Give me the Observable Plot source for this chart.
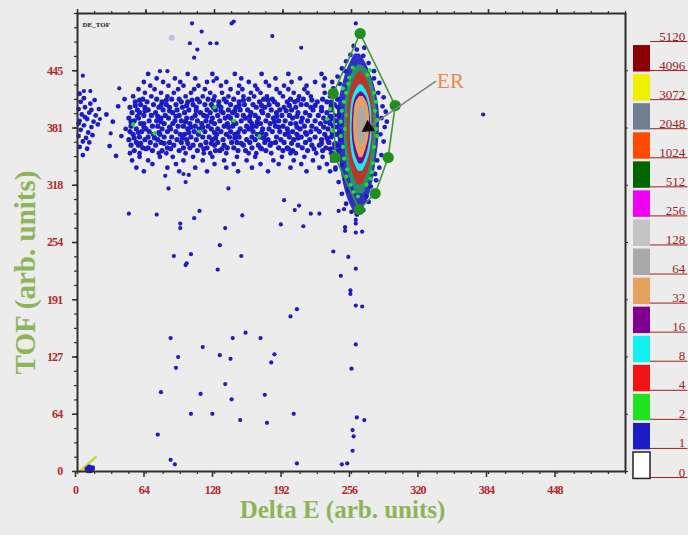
<!DOCTYPE html>
<html>
<head>
<meta charset="utf-8">
<script src="https://cdn.jsdelivr.net/npm/d3@7"></script>
<script src="https://cdn.jsdelivr.net/npm/@observablehq/plot@0.6"></script>
<style>
  html, body { margin: 0; padding: 0; background: #ececec; }
  #chart { position: relative; width: 688px; height: 535px; overflow: hidden; background: #ececec; }
  #main { position: absolute; left: 0; top: 0; }
  #legend { position: absolute; left: 628px; top: 0; }
  #main g[aria-label="x-axis tick label"] text,
  #main g[aria-label="y-axis tick label"] text { letter-spacing: -0.8px; }
</style>
</head>
<body>
<div id="chart"><div id="main"></div><div id="legend"></div></div>
<script>
// ---- axes ----
const xTickValues = [0, 64, 128, 192, 256, 320, 384, 448];
const yTickValues = [0, 63.5, 127, 190.5, 254, 317.5, 381, 444.5];
const yTickLabels = ["0", "64", "127", "191", "254", "318", "381", "445"];

// ---- count levels of the 2D histogram ----
const levelValues = [0, 1, 2, 4, 8, 16, 32, 64, 128, 256, 512, 1024, 2048, 3072, 4096];
const levelColors = ["#ffffff", "#1c1cc4", "#22e022", "#f01414", "#10f0f0", "#800090", "#e6a160",
                     "#a9a9a9", "#c4c4c4", "#f000f0", "#006400", "#ff4a00", "#708090", "#f0f000", "#8b0000"];
const legendLabels = ["0", "1", "2", "4", "8", "16", "32", "64", "128", "256", "512", "1024", "2048", "3072", "4096", "5120"];

// ---- single-count events (Delta E, TOF) ----
const sparsePoints = [
  [107,497],[116,488],[144,497],[146,499],[105,475],[112,468],[124,475],[130,475],[182,483],[209,470],[109,459],[260,497],
  [77,444],[84,444],[127,433],[39,425],[5,439],[12,422],[6,422],[21,391],[31,375],[379,396],
  [82,328],[99,330],[104,329],[85,314],[101,321],[141,314],
  [74,285],[48,286],[96,275],[96,270],[109,281],[114,289],[154,284],[138,270],[133,251],[90,239],[106,241],[102,231],[101,229],[131,224],[153,239],
  [193,301],[203,290],[207,295],[218,286],[226,286],[190,274],[211,272],[239,244],[253,238],[260,225],[246,217],[255,201],[255,197],[260,184],[266,183],[205,180],[199,172],
  [87,148],[145,148],[157,154],[171,148],[117,138],[94,127],[92,115],[133,129],[143,125],[184,130],[181,121],[260,141],[256,114],
  [138,97],[78,88],[115,86],[144,80],[175,85],[106,64],[126,64],[152,57],[177,54],[202,64],[75,41],[261,60],[268,57],[257,46],[258,39],[257,23],
  [87,13],[91,8],[205,9],[247,8],[252,9],
  [244,289],[249,291],[250,271],[250,267],[260,275],[260,265],[266,266],[260,279]
];
const faintPoints = [[88,481]];

// events near Delta E = 0
const leftCluster = [
  [2,360],[5,366],[1,372],[8,370],[3,379],[10,376],[6,384],[13,382],[2,389],[9,391],[15,388],[4,396],[11,398],[1,402],
  [7,404],[17,395],[3,410],[12,408],[6,414],[19,385],[14,373],[5,351],[9,358],[2,419],[20,402],[16,412],[7,393],[11,365],
  [1,386],[13,401],[27,396],[33,388],[41,372],[38,405],[45,380],[30,361],[44,413],[36,350]
];

// the dense TOF ~ 385 band: rows of [TOF, [Delta E ...]]
const bandRows = [
  [333, [62, 95, 121, 150, 178, 214, 236]],
  [337, [55, 84, 110, 139, 163, 199, 226, 241]],
  [341, [70, 92, 128, 146, 171, 188, 209, 233]],
  [345, [51, 66, 99, 117, 137, 158, 183, 202, 220, 238]],
  [349, [58, 77, 89, 108, 126, 149, 166, 191, 212, 229, 244]],
  [353, [49, 58, 76, 83, 101, 118, 124, 139, 160, 167, 181, 199, 204, 223, 238]],
  [356, [53, 70, 79, 95, 112, 129, 133, 150, 157, 176, 192, 201, 215, 229, 244]],
  [358, [64, 87, 118, 135, 172, 197, 221, 236]],
  [359, [61, 66, 84, 99, 105, 121, 140, 146, 163, 171, 188, 196, 210, 232, 240]],
  [362, [50, 57, 73, 90, 108, 115, 128, 137, 155, 169, 180, 206, 219, 226, 243]],
  [364, [59, 81, 103, 125, 153, 181, 200, 228, 241]],
  [365, [55, 68, 78, 86, 97, 120, 131, 144, 149, 161, 175, 185, 193, 213, 235]],
  [368, [48, 63, 75, 93, 102, 111, 126, 136, 158, 166, 178, 190, 202, 217, 228, 246]],
  [370, [53, 72, 98, 129, 147, 174, 206, 233]],
  [371, [58, 66, 81, 88, 106, 117, 123, 142, 151, 163, 171, 186, 198, 209, 222, 237]],
  [374, [52, 71, 77, 96, 100, 113, 130, 139, 147, 168, 176, 194, 205, 214, 231, 242]],
  [376, [57, 76, 104, 128, 150, 172, 197, 213, 238]],
  [377, [49, 60, 67, 84, 92, 109, 119, 134, 143, 156, 164, 182, 189, 201, 218, 226, 245]],
  [380, [55, 64, 79, 87, 103, 114, 125, 131, 152, 160, 173, 179, 196, 208, 223, 234]],
  [382, [62, 86, 106, 117, 141, 163, 188, 205, 230]],
  [383, [50, 70, 75, 94, 99, 110, 122, 137, 145, 158, 167, 185, 192, 212, 219, 239]],
  [386, [59, 62, 81, 89, 105, 116, 128, 140, 148, 163, 171, 180, 199, 204, 227, 236, 246]],
  [388, [50, 78, 101, 125, 146, 168, 184, 209, 232]],
  [389, [53, 67, 74, 91, 97, 112, 120, 133, 153, 161, 176, 188, 194, 215, 222, 241]],
  [392, [48, 57, 78, 85, 102, 107, 126, 138, 143, 157, 169, 183, 201, 210, 230, 238]],
  [394, [56, 75, 92, 121, 141, 161, 186, 205, 236]],
  [395, [62, 69, 82, 95, 110, 118, 131, 149, 155, 166, 178, 191, 198, 217, 225, 244]],
  [398, [51, 58, 73, 89, 100, 115, 124, 136, 145, 162, 173, 186, 206, 213, 233]],
  [400, [63, 86, 111, 134, 147, 172, 195, 228]],
  [401, [56, 66, 80, 93, 104, 121, 129, 141, 152, 159, 181, 189, 200, 220, 237, 245]],
  [404, [49, 63, 76, 86, 98, 111, 127, 134, 148, 167, 175, 193, 204, 218, 228]],
  [406, [54, 78, 102, 132, 151, 172, 198, 222, 237]],
  [407, [59, 71, 83, 92, 108, 119, 125, 143, 156, 164, 179, 187, 209, 214, 240]],
  [410, [54, 65, 79, 97, 103, 114, 132, 139, 151, 170, 184, 196, 203, 224, 233]],
  [412, [58, 83, 107, 127, 155, 178, 206, 219]],
  [413, [61, 74, 88, 95, 112, 122, 137, 146, 160, 174, 182, 199, 211, 229, 243]],
  [416, [52, 69, 84, 101, 117, 128, 141, 155, 165, 177, 192, 207, 218, 236]],
  [420, [63, 78, 90, 106, 124, 135, 150, 162, 171, 189, 202, 215, 231]],
  [424, [57, 72, 94, 109, 119, 143, 154, 168, 186, 197, 212, 240]],
  [428, [68, 85, 99, 113, 134, 151, 166, 179, 193, 214, 230]],
  [432, [62, 80, 96, 121, 139, 160, 176, 200, 222, 238]],
  [436, [74, 91, 110, 130, 153, 185, 208, 231]],
  [441, [66, 103, 126, 147, 172, 197, 228]]
];

// two-count cells scattered in the band and around the ER peak
const doubleCounts = [
  [52,385],[72,375],[114,377],[128,404],[146,389],[170,372],[233,391],[238,378],[236,402],
  [248,360],[250,380],[247,400],[251,420],[254,437],[278,400],[279,380],[277,360],[276,342],[274,325],[252,335],
  [249,347],[255,318],[270,318],[262,305],[252,395],[277,420],[271,440],[257,448],[249,410],[246,372],[280,390],
  [253,430],[275,332],[258,310],[246,388],[248,425],[280,372],[279,410],[251,327],[273,445]
];

// single counts fringing the ER peak
const peakFringe = [
  [240,395],[238,372],[237,410],[239,425],[243,438],[247,447],[251,455],[255,462],[261,468],[267,461],[272,453],
  [277,444],[282,431],[286,415],[288,399],[287,382],[286,366],[284,351],[282,337],[279,323],[276,310],[272,299],
  [267,290],[261,285],[256,288],[251,297],[247,308],[244,321],[241,335],[239,350],[240,363],[281,420],[245,430],
  [250,444],[284,392],[283,374],[280,345],[278,330],[243,404],[242,382],[245,360],[247,340],[250,324],[253,312],
  [270,305],[274,316],[277,436],[268,470],[258,472],[285,405],[289,388],[236,388],[234,366],[237,353]
];

// ER peak contours: [TOF, Delta E left, Delta E right]
const contour1 = [[286,259,264],[298,254,270],[312,250,274],[328,247,277],[345,245,279],[362,244,281],[380,243,282],
                  [398,243,282],[415,245,280],[430,248,277],[443,251,273],[454,255,269],[463,259,264]];
const contour2 = [[308,261,267],[320,256,272],[334,252.5,275.5],[350,250.5,278],[368,249.5,279],[386,249.5,279.5],
                  [404,250,279],[420,251.5,277.5],[434,254,275],[444,257.5,271],[451,262,266]];
const contour4 = [[318,262,266],[328,258,270],[340,255,273],[355,253,275],[370,252,276.5],[386,252,277],[402,252.5,276.5],
                  [417,254,275],[429,256.5,272.5],[438,260,269],[444,263.5,265.5]];
const contour8 = [[333,262.5,266.5],[343,258.5,270.5],[356,256,273.5],[371,255,275],[387,255,275],[402,255.5,274.5],
                  [414,257,272.5],[423,260,269.5],[429,263.5,266]];
const contour16 = [[341,263,266.5],[351,259.5,270],[364,257.5,272.5],[379,256.5,274],[394,257,273.5],[407,258,272],
                   [416,260.5,269.5],[421,264,266]];
const contour32 = [[348,263.5,266.5],[358,260.5,269.5],[370,258.5,272],[384,258,273],[398,258.5,272.5],[409,260,270.5],
                   [416,263.5,267]];
const contour64 = [[362,264,267],[371,261.5,269.5],[384,261,270.5],[397,261.5,270],[406,264,267.5]];

// ER gate polygon
const gateX = [264.1, 296.8, 290.3, 278.1, 263.2, 240.8, 238.9, 264.1];
const gateY = [485.8, 405.9, 348.3, 308.3, 290.6, 348.3, 419.3, 485.8];

// annotation
const erLabel = {x: 348.5, y: 433, text: "ER"};
const erArrow = {x1: 335, y1: 433, x2: 271.5, y2: 381.5};

// marks at the origin
const originLine = [[1, -1], [17, 16]];
const originDots = [[9,3],[11,5],[13,2],[12,1],[14,4],[10,1]];

// ---- tables ----
const pts = (arr, level) => arr.map(([x, y]) => ({x, y, level}));
const bandPoints = bandRows.flatMap(([y, xs]) => xs.map(x => ({x, y, level: 1})));
const bandCore = bandPoints.filter(d => d.y >= 355 && d.y <= 414);
const bandEdge = bandPoints.filter(d => d.y < 355 || d.y > 414);
const contourRows = (rows, level) => rows.map(([y, x1, x2]) => ({y, x1, x2, level}));
const gate = gateX.map((x, i) => ({x, y: gateY[i]}));
const colorScale = {type: "ordinal", domain: levelValues, range: levelColors};

const tickRed = "#b42a2a";
const axisGray = "#2e2e2e";
const titleGreen = "#8fb35a";
const serif = "Liberation Serif, Times New Roman, serif";

const dotOpts = {x: "x", y: "y", r: 2.1, fill: "level"};
const bandOpts = {x: "x", y: "y", r: 2.4, fill: "level"};
const coreOpts = {x: "x", y: "y", r: 2.6, fill: "level"};
const contourOpts = {y: "y", x1: "x1", x2: "x2", fill: "level", curve: "catmull-rom"};

const main = Plot.plot({
  width: 628,
  height: 535,
  marginLeft: 77,
  marginRight: 3,
  marginTop: 13,
  marginBottom: 64,
  x: {domain: [0, 512]},
  y: {domain: [0, 508]},
  color: colorScale,
  style: {background: "transparent", fontFamily: serif},
  marks: [
    // events
    Plot.dot(pts(faintPoints, 1), {x: "x", y: "y", r: 3, fill: "#8a8ad8", fillOpacity: 0.45}),
    Plot.dot(pts(sparsePoints, 1), dotOpts),
    Plot.dot(pts(leftCluster, 1), bandOpts),
    Plot.dot(bandEdge, bandOpts),
    Plot.dot(bandCore, coreOpts),
    // ER peak
    Plot.areaX(contourRows(contour1, 1), {...contourOpts, fillOpacity: 0.9}),
    Plot.dot(pts(peakFringe, 1), bandOpts),
    Plot.areaX(contourRows(contour2, 2), {...contourOpts, fillOpacity: 0.55}),
    Plot.dot(pts(doubleCounts, 2), dotOpts),
    Plot.areaX(contourRows(contour4, 4), {...contourOpts, fillOpacity: 0.72}),
    Plot.areaX(contourRows(contour8, 8), contourOpts),
    Plot.areaX(contourRows(contour16, 16), contourOpts),
    Plot.areaX(contourRows(contour32, 32), contourOpts),
    Plot.areaX(contourRows(contour64, 64), {...contourOpts, fillOpacity: 0.85}),
    // gate
    Plot.line(gate, {x: "x", y: "y", stroke: "#3a9a3a", strokeWidth: 1.6}),
    Plot.dot(gate.slice(0, -1), {x: "x", y: "y", r: 5.6, fill: "#1f8f1f"}),
    // annotation
    Plot.link([erArrow], {x1: "x1", y1: "y1", x2: "x2", y2: "y2", stroke: "#7c8288", strokeWidth: 1.6}),
    Plot.dot([erArrow], {x: "x2", y: "y2", symbol: "triangle", r: 5, rotate: 236, fill: "#111"}),
    Plot.text([erLabel], {x: "x", y: "y", text: "text", fill: "#e8884a", fontSize: 21, fontFamily: serif}),
    // origin marks
    Plot.line(originLine.map(([x, y]) => ({x, y})), {x: "x", y: "y", stroke: "#c8d832", strokeWidth: 2.5}),
    Plot.dot(pts(originDots, 1), {x: "x", y: "y", r: 2.6, fill: "level"}),
    // frame and axes
    Plot.frame({stroke: axisGray, strokeWidth: 2}),
    Plot.axisX({ticks: xTickValues, tickSize: 6, tickPadding: 8, dx: -2, stroke: axisGray, strokeWidth: 1.5,
                fill: tickRed, fontSize: 12, fontWeight: "bold", label: null}),
    Plot.axisX({ticks: d3.range(0, 513, 16), tickSize: 3, stroke: axisGray, strokeWidth: 1.2, fill: "none", label: null}),
    Plot.axisX({anchor: "top", ticks: xTickValues, tickSize: 5, stroke: axisGray, strokeWidth: 1.5, fill: "none", label: null}),
    Plot.axisX({anchor: "top", ticks: d3.range(0, 513, 16), tickSize: 3, stroke: axisGray, strokeWidth: 1.2, fill: "none", label: null}),
    Plot.axisY({ticks: yTickValues, tickSize: 5, tickPadding: 10, stroke: axisGray, strokeWidth: 1.5,
                tickFormat: (d, i) => yTickLabels[i], fill: tickRed, fontSize: 12, fontWeight: "bold", label: null}),
    Plot.axisY({ticks: d3.range(0, 509, 15.875), tickSize: 3, stroke: axisGray, strokeWidth: 1.2, fill: "none", label: null}),
    Plot.axisY({anchor: "right", ticks: yTickValues, tickSize: 3, stroke: axisGray, strokeWidth: 1.2, fill: "none", label: null}),
    // titles
    Plot.text(["DE_TOF"], {text: d => d, frameAnchor: "top-left", dx: 5, dy: 9, textAnchor: "start",
                            fontSize: 7, fontWeight: "bold", fill: "#222"}),
    Plot.text(["Delta E (arb. units)"], {text: d => d, frameAnchor: "bottom", lineAnchor: "middle", textAnchor: "middle",
                                         dx: -9, dy: 38, fontSize: 25, fontWeight: "bold", fill: titleGreen}),
    Plot.text(["TOF (arb. units)"], {text: d => d, frameAnchor: "left", lineAnchor: "middle", textAnchor: "middle",
                                     rotate: -90, dx: -52, dy: 30, fontSize: 29, fontWeight: "bold", fill: titleGreen})
  ]
});
document.getElementById("main").append(main);

// ---- colour key ----
const legendEntries = legendLabels.map((label, i) => ({i, label}));
const legendSwatches = levelValues.map((level, i) => ({i, level}));
const legendRed = "#9e2222";

const legend = Plot.plot({
  width: 60,
  height: 535,
  margin: 0,
  x: {domain: [0, 1], range: [5, 22], axis: null},
  y: {domain: [0, 15], range: [477, 41], axis: null},
  color: colorScale,
  style: {background: "transparent", fontFamily: serif},
  marks: [
    Plot.rect(legendSwatches, {x1: 0, x2: 1, y1: d => d.i - 0.05, y2: d => d.i + 0.86, fill: "level"}),
    Plot.rect(legendSwatches.filter(d => d.level === 0),
              {x1: 0, x2: 1, y1: d => d.i - 0.05, y2: d => d.i + 0.86, fill: "none", stroke: "#222", strokeWidth: 1.5}),
    Plot.ruleY(legendEntries, {y: "i", x1: 1, x2: 3.2, stroke: legendRed, strokeWidth: 1}),
    Plot.text(legendEntries, {x: 3.05, y: "i", text: "label", textAnchor: "end", lineAnchor: "bottom", dy: -1,
                              fill: legendRed, fontSize: 13})
  ]
});
document.getElementById("legend").append(legend);
</script>
</body>
</html>
